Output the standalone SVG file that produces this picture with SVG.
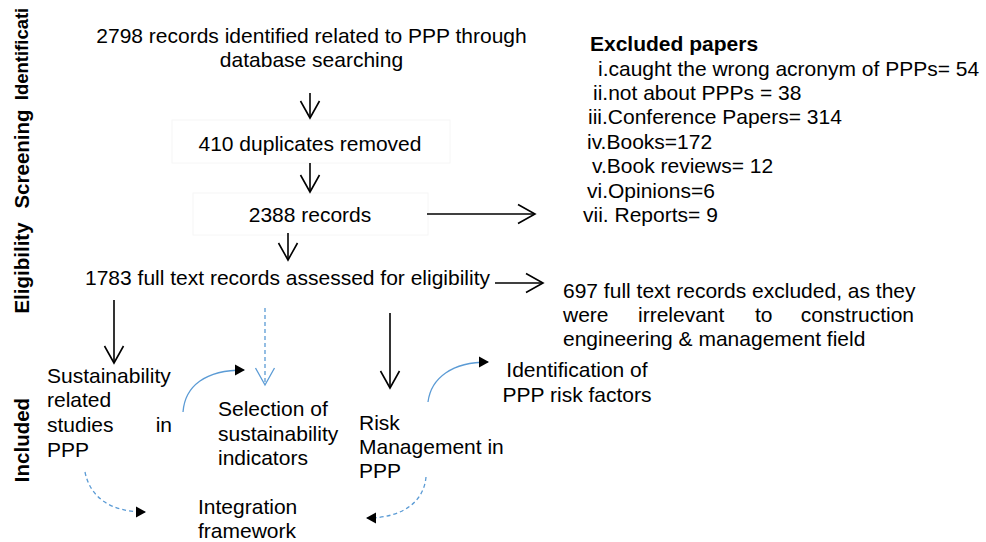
<svg xmlns="http://www.w3.org/2000/svg" width="986" height="542" viewBox="0 0 986 542">
<defs>
<style>
text{font-family:"Liberation Sans",Arial,sans-serif;font-size:21px;fill:#000}
.stage{font-weight:bold;font-size:20.5px}
.b{font-weight:bold}
.blk{stroke:#000;stroke-width:1.6;fill:none}
.blu{stroke:#5b9bd5;stroke-width:1.3;fill:none}
.dash{stroke-dasharray:4 3}
.faint{fill:none;stroke:#f6f6f6;stroke-width:1}
</style>
<marker id="vB" markerUnits="userSpaceOnUse" viewBox="0 0 20 22" refX="18" refY="11" markerWidth="20" markerHeight="22" orient="auto">
<path d="M1,1.5 L18,11 L1,20.5" fill="none" stroke="#000" stroke-width="1.6"/>
</marker>
<marker id="vBlue" markerUnits="userSpaceOnUse" viewBox="0 0 20 22" refX="18" refY="11" markerWidth="20" markerHeight="22" orient="auto">
<path d="M1,1.5 L18,11 L1,20.5" fill="none" stroke="#5b9bd5" stroke-width="1.3"/>
</marker>
<marker id="tri" markerUnits="userSpaceOnUse" viewBox="0 0 10 12" refX="9" refY="6" markerWidth="10" markerHeight="12" orient="auto">
<path d="M0,0.5 L10,6 L0,11.5 Z" fill="#000"/>
</marker>
</defs>
<rect width="986" height="542" fill="#fff"/>

<g id="stages">
<text class="stage" text-anchor="middle" style="font-size:18.5px" transform="translate(28,54) rotate(-90)">Identificati</text>
<text class="stage" text-anchor="middle" transform="translate(29,159) rotate(-90)">Screening</text>
<text class="stage" text-anchor="middle" transform="translate(29,268) rotate(-90)">Eligibility</text>
<text class="stage" text-anchor="middle" transform="translate(29,440) rotate(-90)">Included</text>
</g>

<g id="identified">
<text x="311.5" y="43" text-anchor="middle">2798 records identified related to PPP through</text>
<text x="311.5" y="67" text-anchor="middle">database searching</text>
</g>

<g id="duplicates">
<rect class="faint" x="172" y="120" width="278" height="43"/>
<text x="310" y="151" text-anchor="middle">410 duplicates removed</text>
</g>

<g id="records2388">
<rect class="faint" x="193" y="193" width="235" height="42"/>
<text x="310" y="222" text-anchor="middle">2388 records</text>
</g>

<g id="excluded">
<text x="590" y="51" class="b">Excluded papers</text>
<text x="598" y="76">i.caught the wrong acronym of PPPs= 54</text>
<text x="593" y="100">ii.not about PPPs = 38</text>
<text x="588" y="124">iii.Conference Papers= 314</text>
<text x="587" y="149">iv.Books=172</text>
<text x="592" y="173">v.Book reviews= 12</text>
<text x="587" y="198">vi.Opinions=6</text>
<text x="583" y="222">vii. Reports= 9</text>
</g>

<g id="assessed">
<text x="85" y="285">1783 full text records assessed for eligibility</text>
</g>

<g id="fulltextExcluded">
<text x="563" y="298">697 full text records excluded, as they</text>
<text x="563" y="322">were</text>
<text x="638" y="322">irrelevant</text>
<text x="755" y="322">to</text>
<text x="914" y="322" text-anchor="end">construction</text>
<text x="563" y="346">engineering &amp; management field</text>
</g>

<g id="sustainability">
<text x="47" y="383">Sustainability</text>
<text x="47" y="407">related</text>
<text x="47" y="432">studies</text>
<text x="172" y="432" text-anchor="end">in</text>
<text x="47" y="457">PPP</text>
</g>

<g id="selection">
<text x="218" y="416">Selection of</text>
<text x="218" y="441">sustainability</text>
<text x="218" y="465">indicators</text>
</g>

<g id="risk">
<text x="359" y="430">Risk</text>
<text x="359" y="454">Management in</text>
<text x="359" y="478">PPP</text>
</g>

<g id="identification">
<text x="577" y="377" text-anchor="middle">Identification of</text>
<text x="577" y="402" text-anchor="middle">PPP risk factors</text>
</g>

<g id="integration">
<text x="198" y="514">Integration</text>
<text x="198" y="538">framework</text>
</g>

<g id="connectors">
<path class="blk" d="M310,93 V118" marker-end="url(#vB)"/>
<path class="blk" d="M310,163 V192" marker-end="url(#vB)"/>
<path class="blk" d="M288,233 V260" marker-end="url(#vB)"/>
<path class="blk" d="M427,214 H535" marker-end="url(#vB)"/>
<path class="blk" d="M495,283 H543" marker-end="url(#vB)"/>
<path class="blk" d="M114,300 V363" marker-end="url(#vB)"/>
<path class="blu dash" d="M265,308 V385" marker-end="url(#vBlue)"/>
<path class="blk" d="M390,313 V388" marker-end="url(#vB)"/>
<path class="blu" d="M183,412 C185,386 205,370 244,370" marker-end="url(#tri)"/>
<path class="blu" d="M428,402 C431,378 452,362 488,362" marker-end="url(#tri)"/>
<path class="blu dash" d="M85,472 C90,497 110,512 145,512" marker-end="url(#tri)"/>
<path class="blu dash" d="M426,477 C424,500 405,518 367,518" marker-end="url(#tri)"/>
</g>
</svg>
